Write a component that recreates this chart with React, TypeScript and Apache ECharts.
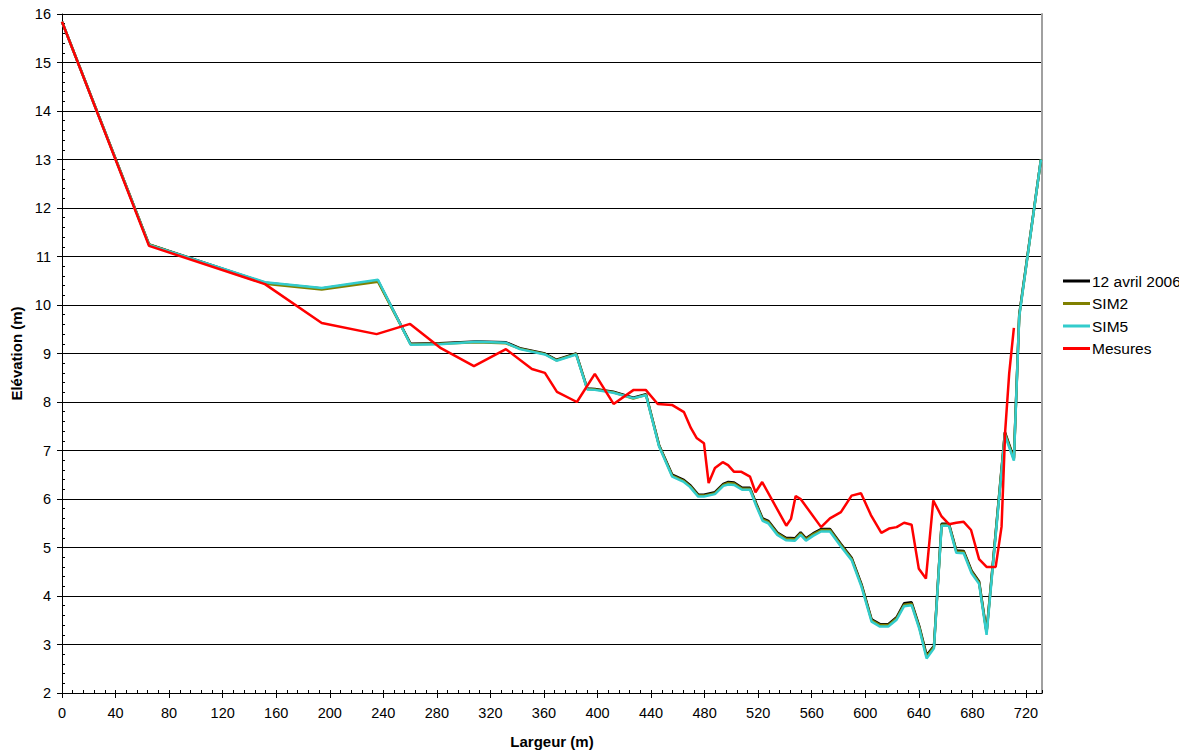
import React, { useEffect, useRef } from "react";
import * as echarts from "echarts";

// Shared abscissae of the simulated profiles (m)
const simX = [0, 65, 151.6, 194, 236, 260.4, 282, 309.7, 331.6, 342, 360.7, 369.4, 384, 392.3, 398, 411.8, 426.7, 436.2, 446, 455.8, 464, 469, 475.2, 479.5, 487.7, 494, 497.7, 502, 508, 513.9, 518.8, 523.3, 527.5, 534.3, 540.7, 547.5, 551.7, 555.7, 561, 567, 573.6, 581.8, 589.8, 597.2, 604.7, 611, 617.2, 623.4, 629, 634.6, 640.3, 645.8, 651.3, 657, 662.5, 668, 673.5, 679.4, 685, 690.6, 704.3, 711, 715, 731.2];

const avrilY = [15.84, 11.25, 10.46, 10.34, 10.5, 9.2, 9.21, 9.25, 9.23, 9.11, 9.0, 8.87, 9.0, 8.28, 8.27, 8.21, 8.09, 8.16, 7.11, 6.5, 6.4, 6.29, 6.09, 6.09, 6.14, 6.31, 6.35, 6.34, 6.23, 6.23, 5.89, 5.6, 5.55, 5.31, 5.2, 5.19, 5.31, 5.19, 5.29, 5.38, 5.38, 5.07, 4.79, 4.24, 3.52, 3.42, 3.42, 3.56, 3.85, 3.87, 3.38, 2.78, 2.97, 5.49, 5.49, 4.94, 4.93, 4.52, 4.3, 3.26, 7.38, 6.84, 9.8, 13.0];

const sim2Y = [15.84, 11.25, 10.44, 10.32, 10.48, 9.19, 9.2, 9.23, 9.21, 9.1, 8.99, 8.86, 8.99, 8.27, 8.26, 8.2, 8.07, 8.15, 7.1, 6.48, 6.38, 6.27, 6.07, 6.07, 6.12, 6.29, 6.33, 6.32, 6.21, 6.21, 5.87, 5.58, 5.53, 5.29, 5.18, 5.17, 5.29, 5.17, 5.27, 5.36, 5.36, 5.05, 4.77, 4.22, 3.5, 3.4, 3.4, 3.54, 3.82, 3.84, 3.36, 2.75, 2.95, 5.47, 5.47, 4.92, 4.91, 4.5, 4.28, 3.24, 7.36, 6.82, 9.78, 13.0];

const sim5Y = [15.84, 11.24, 10.47, 10.35, 10.52, 9.18, 9.19, 9.24, 9.22, 9.09, 8.98, 8.85, 8.98, 8.26, 8.25, 8.19, 8.08, 8.14, 7.08, 6.46, 6.36, 6.25, 6.05, 6.05, 6.1, 6.27, 6.3, 6.29, 6.19, 6.19, 5.84, 5.55, 5.5, 5.26, 5.15, 5.14, 5.26, 5.14, 5.24, 5.33, 5.33, 5.02, 4.74, 4.19, 3.47, 3.37, 3.37, 3.51, 3.79, 3.81, 3.33, 2.71, 2.92, 5.45, 5.45, 4.89, 4.88, 4.47, 4.25, 3.2, 7.32, 6.79, 9.76, 13.0];

// Measured profile
const mesX = [0, 65, 151.6, 194, 235, 260, 283, 307.7, 331.6, 351, 360.7, 369.7, 384.6, 398, 412, 427, 436, 445, 455.6, 464.6, 469.8, 474, 479.5, 483, 487.7, 493.5, 497.5, 502, 507.5, 513.9, 518, 523, 541, 544.5, 548, 551.7, 567, 573.6, 581.8, 589.8, 596.8, 604.2, 612, 617.7, 623.4, 629, 634.6, 640, 645.3, 650.8, 657, 662.5, 668, 673.5, 679, 685, 690.6, 697.4, 701.8, 704.5, 707.5, 711];
const mesY = [15.84, 11.22, 10.43, 9.63, 9.4, 9.61, 9.11, 8.74, 9.09, 8.68, 8.6, 8.21, 8.0, 8.58, 7.96, 8.25, 8.25, 7.96, 7.94, 7.79, 7.46, 7.26, 7.15, 6.33, 6.64, 6.76, 6.7, 6.56, 6.56, 6.46, 6.14, 6.35, 5.45, 5.59, 6.06, 6.0, 5.42, 5.6, 5.73, 6.07, 6.12, 5.67, 5.3, 5.39, 5.42, 5.51, 5.47, 4.56, 4.36, 5.97, 5.64, 5.48, 5.51, 5.53, 5.36, 4.76, 4.6, 4.6, 5.43, 7.4, 8.59, 9.53];

const seriesNames = ["12 avril 2006", "SIM2", "SIM5", "Mesures"];
const seriesColors = ["#000000", "#808000", "#33CCCC", "#FF0000"];

const X_MIN = 0;
const X_MAX = 732;
const X_STEP = 40;
const Y_MIN = 2;
const Y_MAX = 16;
const Y_STEP = 1;

const FONT = "'Liberation Sans', Arial, sans-serif";
// thin horizontal bar centred in a 27x14 box (tiny corner specks keep the box size)
const LINE_ICON =
  "path://M0,0 L0.01,0 L0.01,0.01 Z M0,5.6 L27,5.6 L27,8.4 L0,8.4 Z M26.99,13.99 L27,13.99 L27,14 Z";

export default function App() {
  const ref = useRef<HTMLDivElement>(null);

  useEffect(() => {
    if (!ref.current) return;
    const chart = echarts.init(ref.current, undefined, { renderer: "svg" });
    const pairs = (xs: number[], ys: number[]) => xs.map((x, i) => [x, ys[i]]);
    const datasets = [
      pairs(simX, avrilY),
      pairs(simX, sim2Y),
      pairs(simX, sim5Y),
      pairs(mesX, mesY),
    ];

    const option: any = {
      animation: false,
      backgroundColor: "#ffffff",
      textStyle: { fontFamily: FONT },
      grid: { left: 62, top: 14, width: 980, height: 679, containLabel: false },
      legend: {
        orient: "vertical",
        left: 1063,
        top: 273,
        itemWidth: 27,
        itemHeight: 14,
        itemGap: 6.5,
        padding: 0,
        icon: LINE_ICON,
        data: seriesNames,
        textStyle: { fontFamily: FONT, fontSize: 15.5, color: "#000", padding: [0, 0, 0, -3] },
      },
      xAxis: [
        {
          type: "value",
          min: X_MIN,
          max: X_MAX,
          interval: X_STEP,
          name: "Largeur (m)",
          nameLocation: "middle",
          nameGap: 41,
          nameTextStyle: { fontFamily: FONT, fontSize: 15, fontWeight: "bold", color: "#000" },
          axisLine: { show: true, lineStyle: { color: "#000", width: 1 } },
          axisTick: { show: true, inside: false, length: 5, lineStyle: { color: "#000" } },
          axisLabel: { fontFamily: FONT, fontSize: 14.5, color: "#000", margin: 12, showMaxLabel: false },
          splitLine: { show: false },
        },
        {
          type: "value",
          min: X_MIN,
          max: X_MAX,
          interval: X_STEP,
          position: "bottom",
          axisLine: { show: false },
          axisTick: { show: true, inside: true, length: 3, lineStyle: { color: "#000" } },
          minorTick: { show: true, splitNumber: 5, length: 3, lineStyle: { color: "#000" } },
          axisLabel: { show: false },
          splitLine: { show: false },
        },
      ],
      yAxis: [
        {
          type: "value",
          min: Y_MIN,
          max: Y_MAX,
          interval: Y_STEP,
          name: "Elévation (m)",
          nameLocation: "middle",
          nameGap: 38,
          nameTextStyle: { fontFamily: FONT, fontSize: 15, fontWeight: "bold", color: "#000" },
          axisLine: { show: true, lineStyle: { color: "#000", width: 1 } },
          axisTick: { show: true, inside: false, length: 5, lineStyle: { color: "#000" } },
          axisLabel: { fontFamily: FONT, fontSize: 14.5, color: "#000", margin: 11 },
          splitLine: { show: true, lineStyle: { color: "#000", width: 1 } },
        },
        {
          type: "value",
          min: Y_MIN,
          max: Y_MAX,
          interval: Y_STEP,
          position: "left",
          axisLine: { show: false },
          axisTick: { show: true, inside: true, length: 3, lineStyle: { color: "#000" } },
          minorTick: { show: true, splitNumber: 5, length: 3, lineStyle: { color: "#000" } },
          axisLabel: { show: false },
          splitLine: { show: false },
        },
        {
          type: "value",
          min: Y_MIN,
          max: Y_MAX,
          interval: Y_STEP,
          position: "right",
          axisLine: { show: true, lineStyle: { color: "#A0A0A0", width: 2 } },
          axisTick: { show: false },
          axisLabel: { show: false },
          splitLine: { show: false },
        },
      ],
      series: seriesNames.map((name, i) => ({
        name,
        type: "line",
        xAxisIndex: 0,
        yAxisIndex: 0,
        data: datasets[i],
        symbol: "none",
        showSymbol: false,
        smooth: false,
        z: 2 + i,
        color: seriesColors[i],
        lineStyle: { color: seriesColors[i], width: 2.5 },
        emphasis: { disabled: true },
      })),
    };
    chart.setOption(option);
    return () => chart.dispose();
  }, []);

  return (
    <div
      ref={ref}
      style={{ position: "fixed", left: 0, top: 0, width: 1179, height: 756, background: "#fff" }}
    />
  );
}
